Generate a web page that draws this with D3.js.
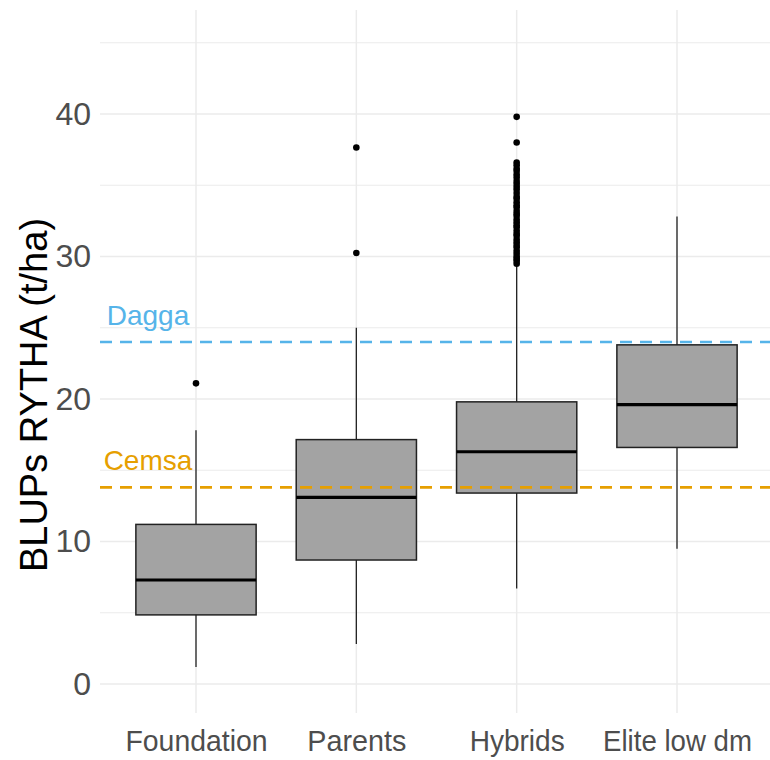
<!DOCTYPE html>
<html>
<head>
<meta charset="utf-8">
<script src="https://cdn.jsdelivr.net/npm/d3@7"></script>
<style>
  html, body { margin: 0; padding: 0; background: #ffffff; }
  svg { display: block; }
  text { font-family: "Liberation Sans", Arial, sans-serif; }
</style>
</head>
<body>
<svg id="chart" width="770" height="760"></svg>
<script>
// Groups on the x axis
const categories = ["Foundation", "Parents", "Hybrids", "Elite low dm"];

// Box-plot summaries of BLUPs RYTHA (t/ha) per group
const lowerWhisker = [1.2, 2.8, 6.7, 9.5];
const q1Values     = [4.85, 8.7, 13.4, 16.6];
const medianValues = [7.3, 13.1, 16.3, 19.6];
const q3Values     = [11.2, 17.15, 19.8, 23.8];
const upperWhisker = [17.8, 25.0, 29.3, 32.8];

// Points beyond the whiskers
const outliersFoundation = [21.1];
const outliersParents = [30.25, 37.65];
const outliersHybrids = [39.8, 38.0, 36.6, 36.4, 36.15, 36.0, 35.75, 35.55, 35.3, 35.1,
  34.9, 34.7, 34.45, 34.2, 34.05, 33.8, 33.6, 33.45, 33.2, 33.0, 32.85, 32.6, 32.4,
  32.2, 32.05, 31.8, 31.6, 31.45, 31.2, 31.0, 30.8, 30.65, 30.4, 30.2, 30.0, 29.85,
  29.7, 29.5];
const outliersElite = [];

// Reference varieties drawn as dashed lines
const refNames = ["Dagga", "Cemsa"];
const refValues = [24.0, 13.8];
const refColors = ["#56B4E9", "#E69F00"];

// Axis ticks
const majorTicks = [0, 10, 20, 30, 40];
const minorTicks = [5, 15, 25, 35, 45];

const yTitle = "BLUPs RYTHA (t/ha)";

// ---------------------------------------------------------------
const svg = d3.select("#chart");
const panel = { left: 100, right: 773, top: 10, bottom: 713 };

const y = d3.scaleLinear().domain([0, 40]).range([684, 114]);
const x = d3.scalePoint().domain(categories).range([196, 677]);
const step = x(categories[1]) - x(categories[0]);
const boxW = step * 0.75;

const groups = categories.map((c, i) => ({
  cat: c,
  lo: lowerWhisker[i], q1: q1Values[i], med: medianValues[i],
  q3: q3Values[i], hi: upperWhisker[i],
  out: [outliersFoundation, outliersParents, outliersHybrids, outliersElite][i]
}));

// grid
const grid = svg.append("g");
grid.selectAll("line.minor").data(minorTicks).join("line")
  .attr("x1", panel.left).attr("x2", panel.right)
  .attr("y1", d => y(d)).attr("y2", d => y(d))
  .attr("stroke", "#EBEBEB").attr("stroke-width", 1.1);
grid.selectAll("line.major").data(majorTicks).join("line")
  .attr("x1", panel.left).attr("x2", panel.right)
  .attr("y1", d => y(d)).attr("y2", d => y(d))
  .attr("stroke", "#EBEBEB").attr("stroke-width", 1.5);
grid.selectAll("line.vx").data(categories).join("line")
  .attr("x1", d => x(d)).attr("x2", d => x(d))
  .attr("y1", panel.top).attr("y2", panel.bottom)
  .attr("stroke", "#EBEBEB").attr("stroke-width", 1.5);

// y axis labels
const yAxis = d3.axisLeft(y).tickValues(majorTicks).tickSize(0).tickPadding(9);
const gy = svg.append("g").attr("transform", `translate(${panel.left},0)`).call(yAxis);
gy.select(".domain").remove();
gy.selectAll("text").attr("font-size", 32).attr("fill", "#4D4D4D")
  .style("font-family", '"Liberation Sans", Arial, sans-serif');

// x axis labels
const xAxis = d3.axisBottom(x).tickSize(0).tickPadding(0);
const gx = svg.append("g").attr("transform", `translate(0,${panel.bottom})`).call(xAxis);
gx.select(".domain").remove();
const xLabelWidths = { "Foundation": 142, "Parents": 99, "Hybrids": 95, "Elite low dm": 149 };
gx.selectAll("text").attr("font-size", 30).attr("fill", "#4D4D4D")
  .style("font-family", '"Liberation Sans", Arial, sans-serif')
  .attr("dy", null).attr("y", 38)
  .attr("textLength", d => xLabelWidths[d])
  .attr("lengthAdjust", "spacingAndGlyphs");

// y title
svg.append("text")
  .attr("transform", "translate(47,395) rotate(-90)")
  .attr("text-anchor", "middle")
  .attr("font-size", 38).attr("fill", "#000")
  .text(yTitle);

// whiskers
const marks = svg.append("g");
marks.selectAll("line.whisk").data(groups).join("line")
  .attr("x1", d => x(d.cat)).attr("x2", d => x(d.cat))
  .attr("y1", d => y(d.lo)).attr("y2", d => y(d.hi))
  .attr("stroke", "#222").attr("stroke-width", 1.3);

// boxes
marks.selectAll("rect.box").data(groups).join("rect")
  .attr("x", d => x(d.cat) - boxW / 2).attr("width", boxW)
  .attr("y", d => y(d.q3)).attr("height", d => y(d.q1) - y(d.q3))
  .attr("fill", "#A3A3A3").attr("stroke", "#222").attr("stroke-width", 1.5);

// medians
marks.selectAll("line.med").data(groups).join("line")
  .attr("x1", d => x(d.cat) - boxW / 2).attr("x2", d => x(d.cat) + boxW / 2)
  .attr("y1", d => y(d.med)).attr("y2", d => y(d.med))
  .attr("stroke", "#000").attr("stroke-width", 3.2);

// outliers
const outPts = groups.flatMap(g => g.out.map(v => ({ cat: g.cat, v })));
marks.selectAll("circle.out").data(outPts).join("circle")
  .attr("cx", d => x(d.cat)).attr("cy", d => y(d.v)).attr("r", 3.3)
  .attr("fill", "#000");

// reference lines and names
const refs = refNames.map((n, i) => ({ name: n, v: refValues[i], color: refColors[i] }));
svg.selectAll("line.ref").data(refs).join("line")
  .attr("x1", panel.left).attr("x2", panel.right)
  .attr("y1", d => y(d.v)).attr("y2", d => y(d.v))
  .attr("stroke", d => d.color).attr("stroke-width", 2.6)
  .attr("stroke-dasharray", "12,8");
svg.selectAll("text.ref").data(refs).join("text")
  .attr("x", 148).attr("y", d => y(d.v) - 17)
  .attr("text-anchor", "middle")
  .attr("font-size", 28).attr("fill", d => d.color)
  .text(d => d.name);
</script>
</body>
</html>
